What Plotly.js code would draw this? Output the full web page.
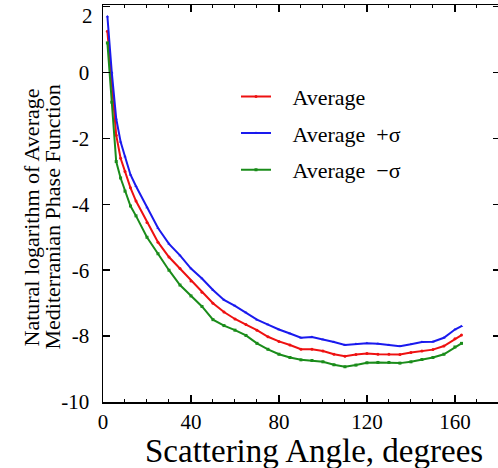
<!DOCTYPE html>
<html>
<head>
<meta charset="utf-8">
<script src="https://cdn.plot.ly/plotly-3.0.1.min.js"></script>
<style>html,body{margin:0;padding:0;background:#fff;overflow:hidden;}</style>
</head>
<body>
<div id="chart" style="width:500px;height:468px;"></div>
<script>
// Scattering angle (degrees)
var angle = [2, 4, 6, 8, 10, 12.5, 15, 20, 25, 30, 35, 40, 45, 50, 55, 60, 65, 70, 75, 80, 85, 90, 95, 100, 105, 110, 115, 120, 125, 130, 135, 140, 145, 150, 155, 160, 163];
// Natural log of average phase function
var average = [1.25, -0.4, -1.9, -2.6, -3.0, -3.5, -3.9, -4.55, -5.15, -5.6, -5.95, -6.33, -6.67, -7.0, -7.27, -7.48, -7.65, -7.82, -8.02, -8.16, -8.27, -8.4, -8.4, -8.45, -8.55, -8.61, -8.56, -8.53, -8.55, -8.55, -8.56, -8.5, -8.45, -8.41, -8.3, -8.08, -7.97];
var averagePlus = [1.7, 0.0, -1.4, -2.1, -2.55, -3.1, -3.45, -4.1, -4.72, -5.2, -5.55, -5.95, -6.25, -6.6, -6.9, -7.08, -7.28, -7.5, -7.65, -7.8, -7.92, -8.05, -8.03, -8.1, -8.18, -8.27, -8.24, -8.22, -8.23, -8.27, -8.31, -8.25, -8.18, -8.17, -8.05, -7.8, -7.7];
var averageMinus = [0.9, -0.9, -2.7, -3.2, -3.6, -4.05, -4.35, -5.0, -5.5, -6.0, -6.45, -6.78, -7.1, -7.5, -7.68, -7.82, -7.98, -8.22, -8.4, -8.55, -8.65, -8.72, -8.74, -8.78, -8.87, -8.93, -8.88, -8.81, -8.8, -8.8, -8.82, -8.78, -8.71, -8.65, -8.55, -8.33, -8.22];
var seriesNames = ['Average', 'Average  +σ', 'Average  −σ'];
var xTicks = [0, 40, 80, 120, 160];
var yTicks = [-10, -8, -6, -4, -2, 0, 2];
var yTickText = ['-10', '-8', '-6', '-4', '-2', '0', ''];
var xTitle = 'Scattering Angle, degrees';
var yTitleLines = ['Natural logarithm of Average', 'Mediterranian Phase Function'];

var NB = '\u00A0\u00A0\u00A0';
var serif = '"Liberation Serif", "Times New Roman", serif';
function mk(y, name, color, symbol, grp) {
  return {
    x: angle, y: y, name: NB + name, type: 'scatter', mode: 'lines+markers',
    legendgroup: grp,
    line: {color: color, width: 2},
    marker: {color: color, size: 3, symbol: symbol}
  };
}
var data = [
  mk(average, seriesNames[0], '#ee1111', 'circle', 'a'),
  mk(averagePlus, seriesNames[1], '#1a1aee', 'triangle-up', 'b'),
  mk(averageMinus, seriesNames[2], '#1a8c1a', 'square', 'c')
];
var layout = {
  width: 500, height: 468,
  margin: {l: 103, r: 0, t: 5, b: 66},
  paper_bgcolor: '#fff', plot_bgcolor: '#fff',
  font: {family: serif, color: '#000', size: 21},
  showlegend: true,
  legend: {x: 0.335, y: 0.822, xanchor: 'left', yanchor: 'top', bgcolor: 'rgba(0,0,0,0)',
           font: {family: serif, size: 22}, tracegroupgap: 5},
  annotations: [
    {xref: 'paper', yref: 'y', x: 0, y: 2, xanchor: 'right', yanchor: 'middle',
     xshift: -8, yshift: -9, text: '2', showarrow: false, font: {family: serif, size: 21}},
    {xref: 'paper', yref: 'paper', x: 0.5, y: 0, xanchor: 'center', yanchor: 'middle',
     xshift: 12, yshift: -49, borderpad: 0, text: xTitle, showarrow: false, font: {family: serif, size: 33}},
    {xref: 'paper', yref: 'paper', x: 0, y: 0.5, xanchor: 'center', yanchor: 'middle',
     xshift: -72, yshift: -14, textangle: -90, text: yTitleLines[0], showarrow: false, font: {family: serif, size: 22}},
    {xref: 'paper', yref: 'paper', x: 0, y: 0.5, xanchor: 'center', yanchor: 'middle',
     xshift: -51, yshift: -14, textangle: -90, text: yTitleLines[1], showarrow: false, font: {family: serif, size: 22}}
  ],
  xaxis: {
    range: [0, 180.5], tickvals: xTicks, ticktext: xTicks.map(String),
    ticks: 'inside', ticklen: 7, tickwidth: 1.5, tickcolor: '#000',
    minor: {dtick: 10, ticks: 'inside', ticklen: 3, tickwidth: 1, tickcolor: '#000', showgrid: false},
    showline: true, linecolor: '#000', linewidth: 1.5, mirror: 'ticks',
    showgrid: false, zeroline: false,
    tickfont: {size: 21, family: serif}
  },
  yaxis: {
    range: [-10, 2.05], tickvals: yTicks, ticktext: yTickText,
    ticks: 'inside', ticklen: 7, tickwidth: 1.5, tickcolor: '#000',
    showline: true, linecolor: '#000', linewidth: 1.5, mirror: 'ticks',
    showgrid: false, zeroline: false,
    tickfont: {size: 21, family: serif}, ticklabelstandoff: 8
  }
};
Plotly.newPlot('chart', data, layout, {displayModeBar: false, staticPlot: true});
</script>
</body>
</html>
